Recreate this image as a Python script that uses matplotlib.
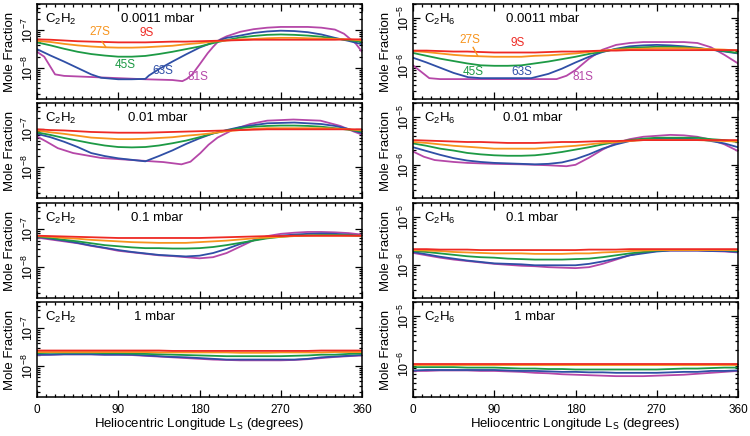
import numpy as np
import matplotlib
matplotlib.use("Agg")
import matplotlib.pyplot as plt
from matplotlib.ticker import LogLocator, FixedLocator, NullFormatter, FuncFormatter

plt.rcParams['font.family'] = ['Liberation Sans', 'DejaVu Sans']
plt.rcParams['mathtext.default'] = 'regular'

# ---------------- data (log10 of mole fraction) ----------------
LS = [0, 15, 30, 45, 60, 75, 90, 105, 120, 135, 150, 165, 180, 195, 210, 225, 240, 255, 270, 285, 300, 315, 330, 345, 360]
latitudes = ['9S', '27S', '45S', '63S', '81S']
pressures = ['0.0011 mbar', '0.01 mbar', '0.1 mbar', '1 mbar']

# C2H2, 0.0011 mbar
a1_9S = [-7.24,-7.25,-7.27,-7.29,-7.30,-7.31,-7.32,-7.32,-7.32,-7.31,-7.30,-7.30,-7.29,-7.28,-7.27,-7.26,-7.25,-7.25,-7.25,-7.25,-7.25,-7.25,-7.25,-7.24,-7.24]
a1_27S = [-7.28,-7.31,-7.36,-7.40,-7.43,-7.45,-7.46,-7.46,-7.45,-7.43,-7.41,-7.37,-7.34,-7.30,-7.27,-7.24,-7.23,-7.21,-7.20,-7.20,-7.21,-7.22,-7.23,-7.24,-7.27]
a1_45S = [-7.32,-7.40,-7.49,-7.57,-7.63,-7.67,-7.70,-7.70,-7.68,-7.63,-7.57,-7.50,-7.43,-7.34,-7.26,-7.19,-7.15,-7.12,-7.11,-7.12,-7.14,-7.17,-7.22,-7.26,-7.31]
a1_63S_ls = [0,15,30,45,60,71,90,105,120,124,135,150,165,180,195,210,225,240,255,270,285,300,315,330,345,360]
a1_63S = [-7.50,-7.67,-7.83,-8.00,-8.17,-8.26,-8.30,-8.30,-8.29,-8.20,-8.03,-7.83,-7.64,-7.46,-7.32,-7.20,-7.14,-7.07,-7.03,-7.01,-7.02,-7.05,-7.11,-7.20,-7.28,-7.37]
a1_81S_ls = [0,8,20,30,60,90,120,150,161,166,172,180,189,195,203,210,225,240,255,270,300,315,330,340,345,353,360]
a1_81S = [-7.57,-7.70,-8.17,-8.21,-8.24,-8.27,-8.30,-8.32,-8.35,-8.29,-8.17,-7.91,-7.61,-7.44,-7.24,-7.16,-7.04,-6.97,-6.93,-6.91,-6.91,-6.93,-6.98,-7.09,-7.19,-7.35,-7.57]

# C2H2, 0.01 mbar
a2_9S = [-7.00,-7.02,-7.03,-7.05,-7.07,-7.08,-7.09,-7.09,-7.09,-7.08,-7.07,-7.06,-7.05,-7.04,-7.03,-7.02,-7.01,-7.00,-7.00,-7.00,-7.00,-7.00,-7.00,-7.00,-7.00]
a2_27S = [-7.03,-7.08,-7.12,-7.17,-7.22,-7.24,-7.26,-7.26,-7.25,-7.23,-7.21,-7.17,-7.14,-7.10,-7.05,-7.02,-6.99,-6.97,-6.97,-6.97,-6.97,-6.97,-6.98,-7.00,-7.03]
a2_45S = [-7.08,-7.15,-7.23,-7.30,-7.37,-7.43,-7.47,-7.48,-7.47,-7.43,-7.37,-7.30,-7.21,-7.11,-7.03,-6.97,-6.93,-6.91,-6.90,-6.90,-6.91,-6.93,-6.97,-7.01,-7.06]
a2_63S = [-7.12,-7.21,-7.33,-7.47,-7.63,-7.71,-7.77,-7.81,-7.85,-7.71,-7.56,-7.39,-7.24,-7.11,-7.02,-6.94,-6.89,-6.84,-6.83,-6.82,-6.84,-6.86,-6.91,-6.99,-7.10]
a2_81S_ls = [0,10,23,40,71,108,140,160,170,181,190,200,218,236,255,284,314,336,351,360]
a2_81S = [-7.19,-7.32,-7.50,-7.63,-7.76,-7.82,-7.87,-7.93,-7.86,-7.63,-7.41,-7.22,-7.00,-6.86,-6.77,-6.74,-6.77,-6.91,-7.06,-7.14]

# C2H2, 0.1 mbar
a3_9S = [-7.17,-7.18,-7.19,-7.20,-7.21,-7.22,-7.23,-7.23,-7.23,-7.23,-7.23,-7.23,-7.23,-7.22,-7.21,-7.20,-7.19,-7.18,-7.18,-7.17,-7.17,-7.17,-7.17,-7.17,-7.17]
a3_27S = [-7.18,-7.20,-7.23,-7.25,-7.28,-7.30,-7.32,-7.34,-7.35,-7.36,-7.36,-7.36,-7.34,-7.32,-7.30,-7.27,-7.24,-7.22,-7.20,-7.18,-7.17,-7.17,-7.17,-7.17,-7.17]
a3_45S = [-7.19,-7.23,-7.28,-7.32,-7.37,-7.42,-7.45,-7.48,-7.50,-7.50,-7.51,-7.51,-7.50,-7.47,-7.42,-7.36,-7.30,-7.24,-7.20,-7.17,-7.16,-7.15,-7.15,-7.16,-7.18]
a3_63S = [-7.20,-7.25,-7.30,-7.36,-7.43,-7.49,-7.55,-7.60,-7.64,-7.68,-7.70,-7.72,-7.70,-7.63,-7.52,-7.39,-7.29,-7.22,-7.17,-7.14,-7.12,-7.11,-7.12,-7.14,-7.17]
a3_81S = [-7.22,-7.27,-7.32,-7.37,-7.44,-7.50,-7.57,-7.61,-7.65,-7.69,-7.71,-7.74,-7.77,-7.74,-7.63,-7.46,-7.29,-7.18,-7.12,-7.09,-7.07,-7.07,-7.08,-7.10,-7.14]

# C2H2, 1 mbar
a4_9S = [-7.59,-7.59,-7.59,-7.59,-7.59,-7.59,-7.59,-7.59,-7.59,-7.59,-7.60,-7.60,-7.60,-7.60,-7.60,-7.60,-7.60,-7.60,-7.60,-7.60,-7.60,-7.59,-7.59,-7.59,-7.59]
a4_27S = [-7.63,-7.63,-7.63,-7.63,-7.63,-7.63,-7.63,-7.63,-7.63,-7.64,-7.64,-7.64,-7.64,-7.64,-7.64,-7.65,-7.65,-7.65,-7.64,-7.64,-7.64,-7.64,-7.63,-7.63,-7.63]
a4_45S = [-7.66,-7.65,-7.65,-7.65,-7.65,-7.66,-7.66,-7.67,-7.68,-7.69,-7.70,-7.71,-7.72,-7.73,-7.74,-7.74,-7.74,-7.74,-7.74,-7.73,-7.72,-7.70,-7.70,-7.68,-7.67]
a4_63S = [-7.70,-7.70,-7.69,-7.69,-7.69,-7.70,-7.70,-7.70,-7.72,-7.74,-7.76,-7.77,-7.79,-7.81,-7.83,-7.83,-7.83,-7.83,-7.83,-7.83,-7.81,-7.77,-7.75,-7.73,-7.71]
a4_81S = [-7.71,-7.70,-7.69,-7.69,-7.69,-7.70,-7.70,-7.71,-7.73,-7.75,-7.77,-7.79,-7.81,-7.83,-7.84,-7.85,-7.85,-7.85,-7.85,-7.84,-7.82,-7.79,-7.76,-7.74,-7.72]

# C2H6, 0.0011 mbar
e1_9S = [-5.68,-5.68,-5.69,-5.70,-5.70,-5.71,-5.72,-5.72,-5.72,-5.72,-5.71,-5.70,-5.70,-5.69,-5.68,-5.68,-5.67,-5.67,-5.67,-5.67,-5.67,-5.67,-5.67,-5.67,-5.67]
e1_27S = [-5.69,-5.71,-5.74,-5.77,-5.79,-5.80,-5.81,-5.81,-5.81,-5.79,-5.78,-5.76,-5.74,-5.71,-5.68,-5.66,-5.65,-5.64,-5.63,-5.63,-5.63,-5.64,-5.65,-5.66,-5.68]
e1_45S = [-5.73,-5.79,-5.85,-5.90,-5.95,-5.99,-6.00,-6.00,-5.99,-5.95,-5.91,-5.86,-5.81,-5.75,-5.70,-5.65,-5.62,-5.61,-5.60,-5.60,-5.61,-5.63,-5.66,-5.69,-5.73]
e1_63S_ls = [0,15,30,45,61,75,90,105,120,131,150,165,180,195,210,225,240,255,270,285,300,315,330,345,360]
e1_63S = [-5.83,-5.93,-6.04,-6.15,-6.24,-6.26,-6.26,-6.26,-6.26,-6.26,-6.17,-6.06,-5.93,-5.81,-5.71,-5.64,-5.59,-5.57,-5.56,-5.57,-5.59,-5.62,-5.66,-5.70,-5.74]
e1_81S_ls = [0,18,30,60,90,120,159,170,180,195,210,225,240,255,270,300,315,330,345,360]
e1_81S = [-5.99,-6.26,-6.28,-6.28,-6.28,-6.28,-6.28,-6.21,-6.09,-5.85,-5.66,-5.56,-5.52,-5.50,-5.50,-5.50,-5.52,-5.61,-5.77,-5.95]

# C2H6, 0.01 mbar
e2_9S = [-5.48,-5.49,-5.50,-5.51,-5.52,-5.52,-5.53,-5.54,-5.54,-5.54,-5.53,-5.52,-5.52,-5.51,-5.50,-5.50,-5.49,-5.48,-5.48,-5.48,-5.48,-5.48,-5.48,-5.48,-5.48]
e2_27S = [-5.52,-5.54,-5.57,-5.60,-5.62,-5.64,-5.66,-5.66,-5.66,-5.66,-5.64,-5.62,-5.60,-5.57,-5.54,-5.52,-5.50,-5.48,-5.48,-5.48,-5.48,-5.48,-5.49,-5.50,-5.51]
e2_45S = [-5.55,-5.60,-5.66,-5.70,-5.75,-5.78,-5.80,-5.81,-5.81,-5.80,-5.77,-5.73,-5.68,-5.63,-5.57,-5.52,-5.48,-5.45,-5.43,-5.43,-5.43,-5.43,-5.46,-5.48,-5.52]
e2_63S = [-5.63,-5.71,-5.79,-5.86,-5.91,-5.94,-5.96,-5.97,-5.98,-5.99,-5.98,-5.95,-5.88,-5.78,-5.66,-5.57,-5.50,-5.46,-5.45,-5.44,-5.45,-5.46,-5.50,-5.55,-5.63]
e2_81S_ls = [0,12,24,45,60,90,120,150,170,180,195,210,225,240,255,270,285,300,315,330,345,360]
e2_81S = [-5.72,-5.83,-5.90,-5.94,-5.96,-5.98,-5.99,-6.01,-6.03,-6.00,-5.85,-5.68,-5.54,-5.46,-5.41,-5.39,-5.37,-5.38,-5.41,-5.47,-5.57,-5.71]

# C2H6, 0.1 mbar
e3_9S = [-5.67,-5.67,-5.68,-5.68,-5.68,-5.69,-5.69,-5.69,-5.69,-5.69,-5.69,-5.69,-5.69,-5.68,-5.68,-5.68,-5.67,-5.67,-5.67,-5.67,-5.67,-5.67,-5.67,-5.67,-5.67]
e3_27S = [-5.69,-5.70,-5.71,-5.73,-5.74,-5.75,-5.76,-5.76,-5.76,-5.77,-5.77,-5.77,-5.76,-5.76,-5.74,-5.73,-5.71,-5.70,-5.69,-5.69,-5.69,-5.69,-5.69,-5.69,-5.69]
e3_45S = [-5.71,-5.73,-5.76,-5.79,-5.82,-5.84,-5.85,-5.87,-5.88,-5.89,-5.89,-5.89,-5.88,-5.87,-5.84,-5.80,-5.76,-5.73,-5.70,-5.69,-5.69,-5.69,-5.69,-5.69,-5.71]
e3_63S = [-5.73,-5.78,-5.83,-5.87,-5.91,-5.94,-5.97,-5.98,-5.99,-6.01,-6.01,-6.01,-6.01,-5.98,-5.93,-5.87,-5.80,-5.76,-5.72,-5.70,-5.70,-5.70,-5.71,-5.71,-5.73]
e3_81S = [-5.75,-5.80,-5.85,-5.89,-5.92,-5.95,-5.98,-6.00,-6.02,-6.03,-6.05,-6.06,-6.07,-6.05,-5.98,-5.89,-5.80,-5.74,-5.71,-5.70,-5.70,-5.70,-5.71,-5.72,-5.74]

# C2H6, 1 mbar
e4_9S = [-6.00,-6.00,-6.00,-6.00,-6.00,-6.00,-6.00,-6.00,-6.00,-6.00,-6.00,-6.00,-6.00,-6.00,-6.00,-6.00,-6.00,-6.00,-6.00,-6.00,-6.00,-6.00,-6.00,-6.00,-6.00]
e4_27S = [-6.03,-6.03,-6.03,-6.03,-6.03,-6.03,-6.03,-6.03,-6.03,-6.03,-6.03,-6.03,-6.03,-6.03,-6.03,-6.03,-6.03,-6.03,-6.03,-6.03,-6.03,-6.03,-6.03,-6.03,-6.03]
e4_45S = [-6.07,-6.07,-6.07,-6.07,-6.08,-6.08,-6.08,-6.09,-6.10,-6.10,-6.11,-6.11,-6.12,-6.12,-6.12,-6.12,-6.12,-6.12,-6.12,-6.11,-6.10,-6.10,-6.09,-6.08,-6.08]
e4_63S = [-6.14,-6.13,-6.13,-6.13,-6.13,-6.13,-6.13,-6.14,-6.15,-6.15,-6.16,-6.17,-6.17,-6.18,-6.18,-6.19,-6.19,-6.19,-6.19,-6.18,-6.17,-6.17,-6.15,-6.15,-6.14]
e4_81S = [-6.15,-6.15,-6.14,-6.14,-6.14,-6.15,-6.15,-6.16,-6.17,-6.19,-6.20,-6.22,-6.23,-6.24,-6.25,-6.26,-6.26,-6.26,-6.25,-6.24,-6.23,-6.21,-6.19,-6.17,-6.15]

colors = {'9S': '#ee2a24', '27S': '#f7941d', '45S': '#1d9a45', '63S': '#2f4fa6', '81S': '#b547a8'}

left_panels = [
    [(LS, a1_9S), (LS, a1_27S), (LS, a1_45S), (a1_63S_ls, a1_63S), (a1_81S_ls, a1_81S)],
    [(LS, a2_9S), (LS, a2_27S), (LS, a2_45S), (LS, a2_63S), (a2_81S_ls, a2_81S)],
    [(LS, a3_9S), (LS, a3_27S), (LS, a3_45S), (LS, a3_63S), (LS, a3_81S)],
    [(LS, a4_9S), (LS, a4_27S), (LS, a4_45S), (LS, a4_63S), (LS, a4_81S)],
]
right_panels = [
    [(LS, e1_9S), (LS, e1_27S), (LS, e1_45S), (e1_63S_ls, e1_63S), (e1_81S_ls, e1_81S)],
    [(LS, e2_9S), (LS, e2_27S), (LS, e2_45S), (LS, e2_63S), (e2_81S_ls, e2_81S)],
    [(LS, e3_9S), (LS, e3_27S), (LS, e3_45S), (LS, e3_63S), (LS, e3_81S)],
    [(LS, e4_9S), (LS, e4_27S), (LS, e4_45S), (LS, e4_63S), (LS, e4_81S)],
]

# ---------------- figure ----------------
W, H = 750.0, 436.0
fig = plt.figure(figsize=(7.5, 4.36), dpi=100)
row_tops = [4, 103, 203, 302]
ph = 95
col_x = [37, 413]
pw = 325

def sup_fmt(v, pos):
    e = int(round(np.log10(v)))
    return r'$10^{%d}$' % e

press_x = [[0.258, 0.28, 0.289, 0.30], [0.285, 0.277, 0.285, 0.31]]
species = [r'C$_2$H$_2$', r'C$_2$H$_6$']
ylims = [(1.5e-9, 5e-7), (2e-7, 2e-5)]

for c, panels in enumerate([left_panels, right_panels]):
    for r, series in enumerate(panels):
        ax = fig.add_axes([col_x[c] / W, 1 - (row_tops[r] + ph) / H, pw / W, ph / H])
        for lat in ['81S', '63S', '45S', '27S', '9S']:
            i = latitudes.index(lat)
            xs, ys = series[i]
            ax.plot(xs, 10 ** np.array(ys), color=colors[lat], lw=1.3, solid_joinstyle='round')
        ax.set_yscale('log')
        ax.set_ylim(*ylims[c])
        ax.set_xlim(0, 360)
        ax.xaxis.set_major_locator(FixedLocator([0, 90, 180, 270, 360]))
        ax.xaxis.set_minor_locator(FixedLocator(np.arange(0, 361, 10)))
        ax.yaxis.set_major_locator(LogLocator(base=10, numticks=10))
        ax.yaxis.set_minor_locator(LogLocator(base=10, subs=np.arange(2, 10), numticks=10))
        ax.yaxis.set_major_formatter(FuncFormatter(sup_fmt))
        ax.yaxis.set_minor_formatter(NullFormatter())
        ax.tick_params(which='both', direction='in', top=True, right=True, width=0.9)
        ax.tick_params(which='major', length=5)
        ax.tick_params(which='minor', length=2.5)
        ax.tick_params(axis='y', labelrotation=90, labelsize=9, pad=1)
        ax.tick_params(axis='x', labelsize=8.5, pad=5)
        for lab in ax.get_yticklabels():
            lab.set_va('center')
        for s in ax.spines.values():
            s.set_linewidth(1.1)
        if r < 3:
            ax.set_xticklabels([])
        else:
            ax.set_xlabel(r'Heliocentric Longitude L$_\mathrm{S}$ (degrees)', fontsize=9.5, labelpad=0)
        ax.set_ylabel('Mole Fraction', fontsize=9.5, labelpad=3)
        ax.text(0.025 if c == 0 else 0.034, 0.84, species[c], transform=ax.transAxes,
                fontsize=9.5, ha='left', va='center')
        ax.text(press_x[c][r], 0.84, pressures[r], transform=ax.transAxes,
                fontsize=9.5, ha='left', va='center')
        if r == 0:
            if c == 0:
                pos = {'9S': (0.338, 0.691), '27S': (0.194, 0.702), '45S': (0.271, 0.362),
                       '63S': (0.388, 0.298), '81S': (0.495, 0.234)}
                lead = ((0.200, 0.606), (0.212, 0.545))
            else:
                pos = {'9S': (0.323, 0.585), '27S': (0.175, 0.617), '45S': (0.185, 0.287),
                       '63S': (0.335, 0.287), '81S': (0.523, 0.234)}
                lead = ((0.185, 0.543), (0.199, 0.455))
            for lat, (px, py) in pos.items():
                ax.text(px, py, lat, color=colors[lat], transform=ax.transAxes,
                        fontsize=8.5, ha='center', va='center')
            ax.plot([lead[0][0], lead[1][0]], [lead[0][1], lead[1][1]], transform=ax.transAxes,
                    color=colors['27S'], lw=1.0)

fig.savefig('out.png', dpi=100)
